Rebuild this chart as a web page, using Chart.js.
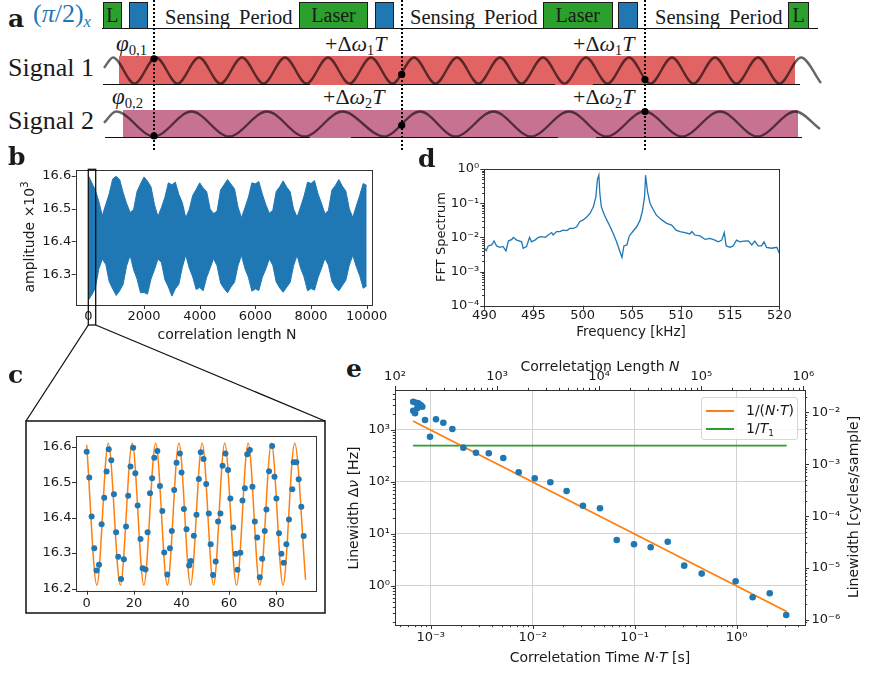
<!DOCTYPE html>
<html>
<head>
<meta charset="utf-8">
<script src="https://cdn.jsdelivr.net/npm/chart.js@4.4.1/dist/chart.umd.min.js"></script>
<style>
  body { margin: 0; background: #fff; }
  #fig { position: relative; width: 872px; height: 680px; overflow: hidden; font-family: "DejaVu Sans"; color: #1a1a1a; }
  canvas { position: absolute; }
  .t { position: absolute; line-height: 1; white-space: nowrap; }
  .serif { font-family: "Liberation Serif"; }
  .lbl { font-family: "DejaVu Serif"; font-weight: bold; font-size: 25px; }
  .box { position: absolute; box-sizing: border-box; border: 1.4px solid #1c1c1c; top: 2px; height: 26.5px;
         font-family: "Liberation Serif"; font-size: 20px; line-height: 24px; text-align: center; }
  .green { background: #2ca02c; }
  .blue { background: #1f77b4; }
  .hl { position: absolute; height: 0; border-top: 1.5px solid #111; }
  .dot { position: absolute; top: 0; width: 0; height: 150px; border-left: 2.2px dotted #000; }
  .band { position: absolute; }
  .ttl { position: absolute; transform: translate(-50%, -50%); white-space: nowrap; line-height: 1; }
  .rot { transform: translate(-50%, -50%) rotate(-90deg); }
  .m sub { font-size: 0.64em; vertical-align: -0.28em; line-height: 0; }
  #leg { position: absolute; left: 701px; top: 397px; width: 97px; height: 43px; box-sizing: border-box;
         border: 1px solid #d6d6d6; border-radius: 3px; background: rgba(255,255,255,0.85); font-size: 14px; }
  .li { position: absolute; left: 4px; line-height: 1; white-space: nowrap; }
  .ls { display: inline-block; width: 28px; height: 2px; vertical-align: middle; margin-right: 12px; }
</style>
</head>
<body>
<div id="fig">
  <!-- panel a : sequence schematic -->
  <div class="band" style="left:119px;top:56px;width:676px;height:29px;background:rgba(214,39,40,0.72)"></div>
  <div class="band" style="left:123px;top:110px;width:675px;height:28px;background:#c77193"></div>
  <div class="hl" style="left:102px;top:28px;width:716px"></div>
  <div class="hl" style="left:103px;top:84px;width:207px"></div>
  <div class="hl" style="left:350px;top:84px;width:205px"></div>
  <div class="hl" style="left:593px;top:84px;width:207px"></div>
  <div class="hl" style="left:105px;top:137px;width:205px"></div>
  <div class="hl" style="left:351px;top:137px;width:207px"></div>
  <div class="hl" style="left:596px;top:137px;width:206px"></div>

  <div class="t lbl" style="left:8px;top:5.5px">a</div>
  <div class="t serif m" style="left:33px;top:1px;font-size:26px;color:#1f77b4">(<i>π</i>/2)<sub><i>x</i></sub></div>
  <div class="box green" style="left:102.5px;width:19.5px">L</div>
  <div class="box blue" style="left:129px;width:19px"></div>
  <div class="t serif" style="left:165px;top:6.5px;font-size:20.5px;word-spacing:4px">Sensing Period</div>
  <div class="box green" style="left:299px;width:69px">Laser</div>
  <div class="box blue" style="left:375px;width:19px"></div>
  <div class="t serif" style="left:410px;top:6.5px;font-size:20.5px;word-spacing:4px">Sensing Period</div>
  <div class="box green" style="left:543px;width:69.5px">Laser</div>
  <div class="box blue" style="left:618px;width:20px"></div>
  <div class="t serif" style="left:655px;top:6.5px;font-size:20.5px;word-spacing:4px">Sensing Period</div>
  <div class="box green" style="left:788px;width:21px">L</div>

  <div class="t serif" style="left:8px;top:55px;font-size:26px">Signal 1</div>
  <div class="t serif" style="left:8px;top:108px;font-size:26px">Signal 2</div>
  <div class="t serif m" style="left:116px;top:32px;font-size:23px"><i>φ</i><sub>0,1</sub></div>
  <div class="t serif m" style="left:112px;top:85px;font-size:23px"><i>φ</i><sub>0,2</sub></div>
  <div class="t serif m" style="left:325px;top:33px;font-size:22px">+Δ<i>ω</i><sub>1</sub><i>T</i></div>
  <div class="t serif m" style="left:573px;top:33px;font-size:22px">+Δ<i>ω</i><sub>1</sub><i>T</i></div>
  <div class="t serif m" style="left:323px;top:86px;font-size:22px">+Δ<i>ω</i><sub>2</sub><i>T</i></div>
  <div class="t serif m" style="left:573px;top:86px;font-size:22px">+Δ<i>ω</i><sub>2</sub><i>T</i></div>

  <canvas id="cvA" width="872" height="160" style="left:0;top:0"></canvas>
  <div class="dot" style="left:153px"></div>
  <div class="dot" style="left:400.5px"></div>
  <div class="dot" style="left:644px"></div>

  <!-- panel labels -->
  <div class="t lbl" style="left:8px;top:144px">b</div>
  <div class="t lbl" style="left:8px;top:362px">c</div>
  <div class="t lbl" style="left:418px;top:146px">d</div>
  <div class="t lbl" style="left:346px;top:356px">e</div>

  <canvas id="cvB" width="390" height="190" style="left:0;top:160px"></canvas>
  <canvas id="cvC" width="296" height="188" style="left:27px;top:423px"></canvas>
  <canvas id="cvD" width="440" height="190" style="left:400px;top:160px"></canvas>
  <canvas id="cvE" width="542" height="320" style="left:330px;top:360px"></canvas>

  <svg width="872" height="680" style="position:absolute;left:0;top:0;pointer-events:none">
    <rect x="88.3" y="169.3" width="7.4" height="155.7" fill="none" stroke="#111" stroke-width="1.3"/>
    <line x1="88.3" y1="325" x2="26" y2="421" stroke="#111" stroke-width="1.3"/>
    <line x1="95.7" y1="325" x2="325" y2="421" stroke="#111" stroke-width="1.3"/>
    <rect x="26" y="421" width="299" height="192" fill="none" stroke="#111" stroke-width="1.5"/>
  </svg>

  <!-- axis titles -->
  <div class="ttl rot" style="left:28px;top:237px;font-size:14px">amplitude ×10<sup style="font-size:10px">3</sup></div>
  <div class="ttl" style="left:227px;top:334px;font-size:14px">correlation length N</div>
  <div class="ttl rot" style="left:440px;top:237px;font-size:13px">FFT Spectrum</div>
  <div class="ttl" style="left:631px;top:332px;font-size:13.5px">Frequency [kHz]</div>
  <div class="ttl" style="left:600px;top:366px;font-size:14px">Correletation Length <i>N</i></div>
  <div class="ttl" style="left:600px;top:657px;font-size:14px">Correletation Time <i>N</i>·<i>T</i> [s]</div>
  <div class="ttl rot" style="left:353px;top:508px;font-size:14px">Linewidth Δ<i>ν</i> [Hz]</div>
  <div class="ttl rot" style="left:853px;top:507px;font-size:14px">Linewidth [cycles/sample]</div>

  <div id="leg">
    <div class="li m" style="top:5px"><span class="ls" style="background:#ff7f0e"></span>1/(<i>N</i>·<i>T</i>)</div>
    <div class="li m" style="top:23px"><span class="ls" style="background:#2ca02c"></span>1/<i>T</i><sub>1</sub></div>
  </div>
</div>

<script>
// ---------- panel a: extrema of the two drawn waves (x in figure units, value in +-1) ----------
const sig1X = [104, 113, 134.5, 156, 177.5, 199, 220.5, 242, 263.5, 285, 306.5, 328, 349.5, 371, 392.5, 414,
               435.5, 457, 478.5, 500, 521.5, 543, 564.5, 586, 607.5, 629, 650.5, 672, 693.5, 715, 736.5, 758,
               779.5, 801, 821];
const sig1V = [0.2, 1, -1, 1, -1, 1, -1, 1, -1, 1, -1, 1, -1, 1, -1, 1,
               -1, 1, -1, 1, -1, 1, -1, 1, -1, 1, -1, 1, -1, 1, -1, 1,
               -1, 1, -0.97];
const sig2X = [104, 116, 154, 191.5, 229, 267, 304.5, 342.5, 384, 420, 455.5, 493.5, 531, 569, 606.5, 644.5,
               682, 720, 757.5, 795.5, 820];
const sig2V = [0.1, 1, -1, 1, -1, 1, -1, 1, -1, 1, -1, 1, -1, 1, -1, 1, -1, 1, -1, 1, -0.4];
const markX = [154, 401.7, 645];
const mark1V = [0.9, -0.3, -0.7];
const mark2V = [-0.95, -0.1, 1];

// ---------- panel b: envelope of the raw trace ----------
const bN = [0, 125, 250, 375, 500, 625, 750, 875, 1000, 1125, 1250, 1375, 1500, 1625, 1750, 1875,
            2000, 2125, 2250, 2375, 2500, 2625, 2750, 2875, 3000, 3125, 3250, 3375, 3500, 3625, 3750, 3875,
            4000, 4125, 4250, 4375, 4500, 4625, 4750, 4875, 5000, 5125, 5250, 5375, 5500, 5625, 5750, 5875,
            6000, 6125, 6250, 6375, 6500, 6625, 6750, 6875, 7000, 7125, 7250, 7375, 7500, 7625, 7750, 7875,
            8000, 8125, 8250, 8375, 8500, 8625, 8750, 8875, 9000, 9125, 9250, 9375, 9500, 9625, 9750, 9875, 10000];
const bUpper = [16.600, 16.578, 16.556, 16.522, 16.478, 16.512, 16.545, 16.590,
                16.598, 16.588, 16.548, 16.515, 16.488, 16.496, 16.552, 16.575,
                16.596, 16.583, 16.566, 16.512, 16.476, 16.503, 16.534, 16.578,
                16.572, 16.580, 16.543, 16.518, 16.472, 16.497, 16.540, 16.558,
                16.578, 16.562, 16.552, 16.498, 16.485, 16.492, 16.556, 16.572,
                16.588, 16.574, 16.560, 16.505, 16.472, 16.502, 16.534, 16.578,
                16.575, 16.582, 16.544, 16.512, 16.486, 16.494, 16.552, 16.566,
                16.584, 16.565, 16.551, 16.498, 16.474, 16.505, 16.538, 16.580,
                16.576, 16.585, 16.545, 16.516, 16.484, 16.494, 16.556, 16.570,
                16.588, 16.568, 16.553, 16.499, 16.473, 16.507, 16.540, 16.576, 16.570];
const bLower = [16.222, 16.238, 16.258, 16.316, 16.346, 16.331, 16.278, 16.256,
                16.236, 16.250, 16.270, 16.326, 16.358, 16.314, 16.286, 16.244,
                16.245, 16.240, 16.286, 16.314, 16.347, 16.336, 16.284, 16.262,
                16.234, 16.256, 16.270, 16.321, 16.359, 16.319, 16.292, 16.254,
                16.260, 16.250, 16.291, 16.319, 16.348, 16.326, 16.274, 16.257,
                16.244, 16.262, 16.276, 16.326, 16.358, 16.318, 16.291, 16.249,
                16.256, 16.251, 16.291, 16.316, 16.347, 16.328, 16.277, 16.259,
                16.246, 16.261, 16.276, 16.327, 16.358, 16.319, 16.292, 16.250,
                16.257, 16.252, 16.290, 16.318, 16.349, 16.328, 16.279, 16.260,
                16.250, 16.266, 16.282, 16.328, 16.358, 16.324, 16.296, 16.258, 16.265];
const bXTicks = [0, 2000, 4000, 6000, 8000, 10000];
const bYTicks = [16.3, 16.4, 16.5, 16.6];

// ---------- panel c: first samples and fit ----------
const cX = [0, 1.1, 2.1, 3.2, 4.2, 5.2, 6.3, 7.4, 8.4, 9.3, 10.4, 11.5, 12.4, 13.3, 14.5, 15.7, 16.6, 17.5,
            18.5, 19.6, 20.5, 21.5, 22.7, 23.6, 24.8, 25.7, 26.7, 27.6, 28.5, 29.8, 30.9, 31.9, 32.7, 34.0,
            35.1, 35.9, 36.9, 37.9, 39.3, 40.0, 41.0, 42.1, 43.2, 43.9, 45.2, 46.3, 47.3, 48.1, 49.3, 50.4,
            51.5, 52.3, 53.3, 54.4, 55.4, 56.4, 57.3, 58.5, 59.6, 60.6, 61.8, 62.9, 63.6, 64.8, 65.7, 66.7,
            67.7, 68.8, 69.9, 70.9, 71.9, 73.0, 74.0, 75.1, 75.8, 76.9, 78.2, 79.2, 80.0, 81.1, 82.1, 83.1,
            84.2, 85.3, 86.7, 87.3, 88.4, 89.4, 90.5, 91.5];
const cY = [16.586, 16.513, 16.403, 16.314, 16.251, 16.267, 16.381, 16.456, 16.530, 16.593, 16.562, 16.466,
            16.359, 16.290, 16.227, 16.283, 16.375, 16.462, 16.544, 16.597, 16.525, 16.434, 16.340, 16.257,
            16.254, 16.359, 16.469, 16.511, 16.569, 16.588, 16.489, 16.419, 16.302, 16.240, 16.314, 16.362,
            16.478, 16.555, 16.581, 16.527, 16.424, 16.367, 16.265, 16.278, 16.349, 16.408, 16.509, 16.584,
            16.565, 16.495, 16.412, 16.325, 16.238, 16.276, 16.389, 16.412, 16.546, 16.581, 16.534, 16.454,
            16.372, 16.298, 16.253, 16.301, 16.448, 16.483, 16.579, 16.591, 16.487, 16.389, 16.344, 16.232,
            16.284, 16.362, 16.423, 16.531, 16.602, 16.515, 16.454, 16.356, 16.298, 16.273, 16.325, 16.395,
            16.480, 16.556, 16.556, 16.508, 16.431, 16.348];
const cFitX = [0, 4.3, 9.1, 14.2, 19.2, 24.1, 29.1, 34.0, 38.9, 43.8, 48.7, 53.5, 58.2, 63.2, 68.1, 73.0,
               77.9, 82.8, 87.7, 92.3];
const cFitY = [16.605, 16.21, 16.61, 16.21, 16.61, 16.21, 16.61, 16.21, 16.61, 16.21, 16.61, 16.21, 16.61,
               16.21, 16.61, 16.21, 16.61, 16.21, 16.61, 16.225];
const cXTicks = [0, 20, 40, 60, 80];
const cYTicks = [16.2, 16.3, 16.4, 16.5, 16.6];

// ---------- panel d: FFT spectrum ----------
const dFreq = [490.0, 490.2, 490.4, 490.75, 491.0, 491.25, 491.6, 491.9, 492.2, 492.45, 492.8, 492.95, 493.3,
               493.55, 493.8, 493.95, 494.3, 494.6, 494.8, 495.15, 495.5, 495.8, 496.2, 496.5, 496.85, 497.0,
               497.35, 497.7, 498.0, 498.4, 498.7, 499.05, 499.4, 499.7, 500.05, 500.4, 500.75, 501.1, 501.35,
               501.5, 501.65, 501.75, 501.9, 502.15, 502.45, 502.8, 503.1, 503.45, 503.8, 504.0, 504.2, 504.5,
               504.75, 505.1, 505.5, 505.85, 506.1, 506.3, 506.4, 506.6, 506.85, 507.2, 507.5, 508.05, 508.55,
               509.05, 509.5, 509.9, 510.4, 510.9, 511.1, 511.4, 511.95, 512.45, 512.95, 513.45, 513.8, 514.15,
               514.4, 514.6, 515.0, 515.3, 515.65, 516.0, 516.35, 516.85, 517.2, 517.5, 517.85, 518.2, 518.45,
               518.7, 519.2, 519.75, 520.0];
const dSpec = [0.0048, 0.0041, 0.0056, 0.0060, 0.0078, 0.0056, 0.0051, 0.0054, 0.0040, 0.0078, 0.0087, 0.0100,
               0.0083, 0.0079, 0.0074, 0.0048, 0.0054, 0.0100, 0.0074, 0.0083, 0.0100, 0.0105, 0.0100, 0.0117,
               0.0138, 0.0117, 0.0148, 0.0148, 0.0162, 0.0158, 0.0182, 0.0182, 0.0204, 0.0288, 0.0324, 0.0389,
               0.0501, 0.0794, 0.155, 0.479, 0.66, 0.195, 0.0794, 0.0501, 0.0324, 0.0204, 0.0132, 0.0074, 0.0038,
               0.0026, 0.0056, 0.0060, 0.0110, 0.0148, 0.0204, 0.0324, 0.0631, 0.155, 0.66, 0.219, 0.100, 0.0631,
               0.0447, 0.0324, 0.0257, 0.0229, 0.0162, 0.0148, 0.0138, 0.0126, 0.0148, 0.0117, 0.0110, 0.0087,
               0.0093, 0.0083, 0.0074, 0.0083, 0.0138, 0.0056, 0.0051, 0.0056, 0.0083, 0.0074, 0.0078, 0.0079,
               0.0060, 0.0078, 0.0056, 0.0056, 0.0074, 0.0051, 0.0048, 0.0051, 0.0034];
const dXTicks = [490, 495, 500, 505, 510, 515, 520];

// ---------- panel e: linewidth vs correlation time ----------
const eTime = [6.74e-4, 7.18e-4, 7.55e-4, 7.97e-4, 8.27e-4, 7.39e-4, 6.74e-4, 7.02e-4, 8.80e-4, 9.85e-4,
               1.127e-3, 1.33e-3, 1.63e-3, 2.09e-3, 2.78e-3, 3.71e-3, 5.15e-3, 7.29e-3, 1.047e-2, 1.49e-2,
               2.15e-2, 3.11e-2, 4.57e-2, 6.67e-2, 9.85e-2, 0.1435, 0.211, 0.306, 0.454, 0.977, 1.435, 2.11, 3.06];
const eWidth = [3500, 3350, 3260, 3025, 2805, 2610, 2350, 2095, 1557, 743, 1607, 1381, 1045, 457, 366, 356,
                290, 154, 118, 98.7, 67.1, 35.0, 31.2, 7.67, 6.34, 5.55, 7.11, 2.46, 1.73, 1.23, 0.607, 0.724, 0.277];
const eFitT = [6.7e-4, 3.09];
const eFitW = [1490, 0.324];
const eT1T = [6.7e-4, 3.09];
const eT1W = [500, 500];

// ---------- helpers ----------
Chart.defaults.font.family = 'DejaVu Sans';
Chart.defaults.color = '#1a1a1a';
Chart.defaults.animation = false;
Chart.defaults.events = [];
Chart.defaults.plugins.legend.display = false;
Chart.defaults.plugins.tooltip.enabled = false;

const SUP = {'-': '⁻', '0': '⁰', '1': '¹', '2': '²', '3': '³', '4': '⁴', '5': '⁵', '6': '⁶', '7': '⁷', '8': '⁸', '9': '⁹'};
function decadeLabel(v) {
  const e = Math.log10(v), r = Math.round(e);
  if (Math.abs(e - r) > 1e-6) return '';
  return '10' + String(r).split('').map(c => SUP[c]).join('');
}
// 1..9 x 10^k inside [lo, hi], used as log-axis ticks
function logTicks(lo, hi) {
  const out = [];
  for (let e = Math.floor(Math.log10(lo)); e <= Math.ceil(Math.log10(hi)); e++) {
    for (let m = 1; m <= 9; m++) {
      const v = m * Math.pow(10, e);
      if (v >= lo * 0.9999 && v <= hi * 1.0001) out.push(v);
    }
  }
  return out;
}
function pts(xs, ys) { return xs.map((x, i) => ({x: x, y: ys[i]})); }

function axis(o) {
  return {
    type: o.type || 'linear', position: o.position, min: o.min, max: o.max, display: true,
    afterBuildTicks: s => { s.ticks = o.ticks.map(v => ({value: v})); },
    afterFit: s => {
      if (o.width != null) s.width = o.width;
      if (o.height != null) s.height = o.height;
      s.paddingTop = s.paddingBottom = s.paddingLeft = s.paddingRight = 0;
    },
    grid: o.grid || {display: false, drawTicks: false},
    border: {display: false},
    ticks: {autoSkip: false, maxRotation: 0, minRotation: 0, padding: o.pad == null ? 5 : o.pad,
            color: '#1a1a1a', font: {size: o.size || 13}, callback: o.fmt}
  };
}

// matplotlib-like frame and outward tick marks
const mplFrame = {
  id: 'mplFrame',
  afterDraw(chart) {
    const {ctx, chartArea: a} = chart;
    ctx.save();
    ctx.strokeStyle = '#333';
    ctx.lineWidth = 1;
    ctx.strokeRect(Math.round(a.left) + 0.5, Math.round(a.top) + 0.5,
                   Math.round(a.right - a.left), Math.round(a.bottom - a.top));
    Object.values(chart.scales).forEach(s => {
      if (!s.options.display) return;
      s.ticks.forEach(t => {
        const p = Math.round(s.getPixelForValue(t.value)) + 0.5;
        const len = t.label ? 4 : 2.2;
        ctx.beginPath();
        if (s.position === 'bottom') { ctx.moveTo(p, a.bottom); ctx.lineTo(p, a.bottom + len); }
        else if (s.position === 'top') { ctx.moveTo(p, a.top); ctx.lineTo(p, a.top - len); }
        else if (s.position === 'left') { ctx.moveTo(a.left, p); ctx.lineTo(a.left - len, p); }
        else { ctx.moveTo(a.right, p); ctx.lineTo(a.right + len, p); }
        ctx.stroke();
      });
    });
    ctx.restore();
  }
};

const BLUE = '#1f77b4', ORANGE = '#ff7f0e', GREEN = '#2ca02c';

// ---------- panel a ----------
new Chart(document.getElementById('cvA'), {
  type: 'line',
  data: {datasets: [
    {data: pts(sig1X, sig1V), yAxisID: 'y1', borderColor: 'rgba(0,0,0,0.6)', borderWidth: 2.4,
     pointRadius: 0, cubicInterpolationMode: 'monotone'},
    {data: pts(sig2X, sig2V), yAxisID: 'y2', borderColor: 'rgba(0,0,0,0.6)', borderWidth: 2.4,
     pointRadius: 0, cubicInterpolationMode: 'monotone'},
    {data: pts(markX, mark1V), yAxisID: 'y1', showLine: false, pointRadius: 3.6,
     pointBackgroundColor: '#000', pointBorderWidth: 0},
    {data: pts(markX, mark2V), yAxisID: 'y2', showLine: false, pointRadius: 3.6,
     pointBackgroundColor: '#000', pointBorderWidth: 0}
  ]},
  options: {
    responsive: false, layout: {padding: 0, autoPadding: false},
    scales: {
      x: {type: 'linear', display: false, min: 0, max: 872},
      y1: {type: 'linear', display: false, min: -6.885, max: 5.423},
      y2: {type: 'linear', display: false, min: -2.88, max: 9.92}
    }
  }
});

// ---------- panel b ----------
new Chart(document.getElementById('cvB'), {
  type: 'line',
  data: {datasets: [
    {data: pts(bN, bLower), borderColor: BLUE, borderWidth: 1, pointRadius: 0, fill: false},
    {data: pts(bN, bUpper), borderColor: BLUE, borderWidth: 1, pointRadius: 0, fill: '-1', backgroundColor: BLUE}
  ]},
  options: {
    responsive: false, layout: {autoPadding: false, padding: {top: 10, right: 18.3, left: 0, bottom: 0}},
    scales: {
      x: axis({position: 'bottom', min: -455, max: 10180, ticks: bXTicks, height: 45, pad: 4,
               fmt: v => String(v)}),
      y: axis({position: 'left', min: 16.207, max: 16.617, ticks: bYTicks, width: 75.7, pad: 4.5,
               fmt: v => v.toFixed(1)})
    }
  },
  plugins: [mplFrame]
});

// ---------- panel c ----------
new Chart(document.getElementById('cvC'), {
  type: 'line',
  data: {datasets: [
    {data: pts(cX, cY), showLine: false, pointRadius: 3, pointBackgroundColor: BLUE, pointBorderWidth: 0, order: 0},
    {data: pts(cFitX, cFitY), borderColor: ORANGE, borderWidth: 1.5, pointRadius: 0,
     cubicInterpolationMode: 'monotone', order: 1}
  ]},
  options: {
    responsive: false, layout: {autoPadding: false, padding: {top: 12.7, right: 7, left: 0, bottom: 0}},
    scales: {
      x: axis({position: 'bottom', min: -4.5, max: 96.7, ticks: cXTicks, height: 20.3, pad: 5.5,
               fmt: v => String(v)}),
      y: axis({position: 'left', min: 16.194, max: 16.631, ticks: cYTicks, width: 49, pad: 4.5,
               fmt: v => v.toFixed(1)})
    }
  },
  plugins: [mplFrame]
});

// ---------- panel d ----------
new Chart(document.getElementById('cvD'), {
  type: 'line',
  data: {datasets: [
    {data: pts(dFreq, dSpec), borderColor: BLUE, borderWidth: 1.3, pointRadius: 0}
  ]},
  options: {
    responsive: false, layout: {autoPadding: false, padding: {top: 9, right: 60.7, left: 0, bottom: 0}},
    scales: {
      x: axis({position: 'bottom', min: 490, max: 520, ticks: dXTicks, height: 44.3, pad: 2.5,
               fmt: v => String(v)}),
      y: axis({type: 'logarithmic', position: 'left', min: 1e-4, max: 1, ticks: logTicks(1e-4, 1),
               width: 84.3, pad: 5, fmt: decadeLabel})
    }
  },
  plugins: [mplFrame]
});

// ---------- panel e ----------
const majorGrid = {display: true, drawTicks: false, lineWidth: 1,
  color: c => (c.tick && decadeLabel(c.tick.value)) ? '#d2d2d2' : 'rgba(0,0,0,0)'};
new Chart(document.getElementById('cvE'), {
  type: 'line',
  data: {datasets: [
    {data: pts(eTime, eWidth), showLine: false, pointRadius: 3.3, pointBackgroundColor: BLUE,
     pointBorderWidth: 0, order: 0},
    {data: pts(eFitT, eFitW), borderColor: ORANGE, borderWidth: 1.8, pointRadius: 0, order: 1},
    {data: pts(eT1T, eT1W), borderColor: GREEN, borderWidth: 1.8, pointRadius: 0, order: 2}
  ]},
  options: {
    responsive: false, layout: {padding: 0, autoPadding: false},
    scales: {
      x: axis({type: 'logarithmic', position: 'bottom', min: 4.467e-4, max: 4.677,
               ticks: logTicks(4.467e-4, 4.677), height: 55, pad: 5, fmt: decadeLabel, grid: majorGrid}),
      x2: axis({type: 'logarithmic', position: 'top', min: 100, max: 1.038e6,
                ticks: logTicks(100, 1.038e6), height: 30, pad: 5.5, fmt: decadeLabel}),
      y: axis({type: 'logarithmic', position: 'left', min: 0.1778, max: 5875,
               ticks: logTicks(0.1778, 5875), width: 65, pad: 5, fmt: decadeLabel, grid: majorGrid}),
      y2: axis({type: 'logarithmic', position: 'right', min: 8.02e-7, max: 0.0269,
                ticks: logTicks(8.02e-7, 0.0269), width: 67, pad: 6.5, fmt: decadeLabel})
    }
  },
  plugins: [mplFrame]
});
</script>
</body>
</html>
